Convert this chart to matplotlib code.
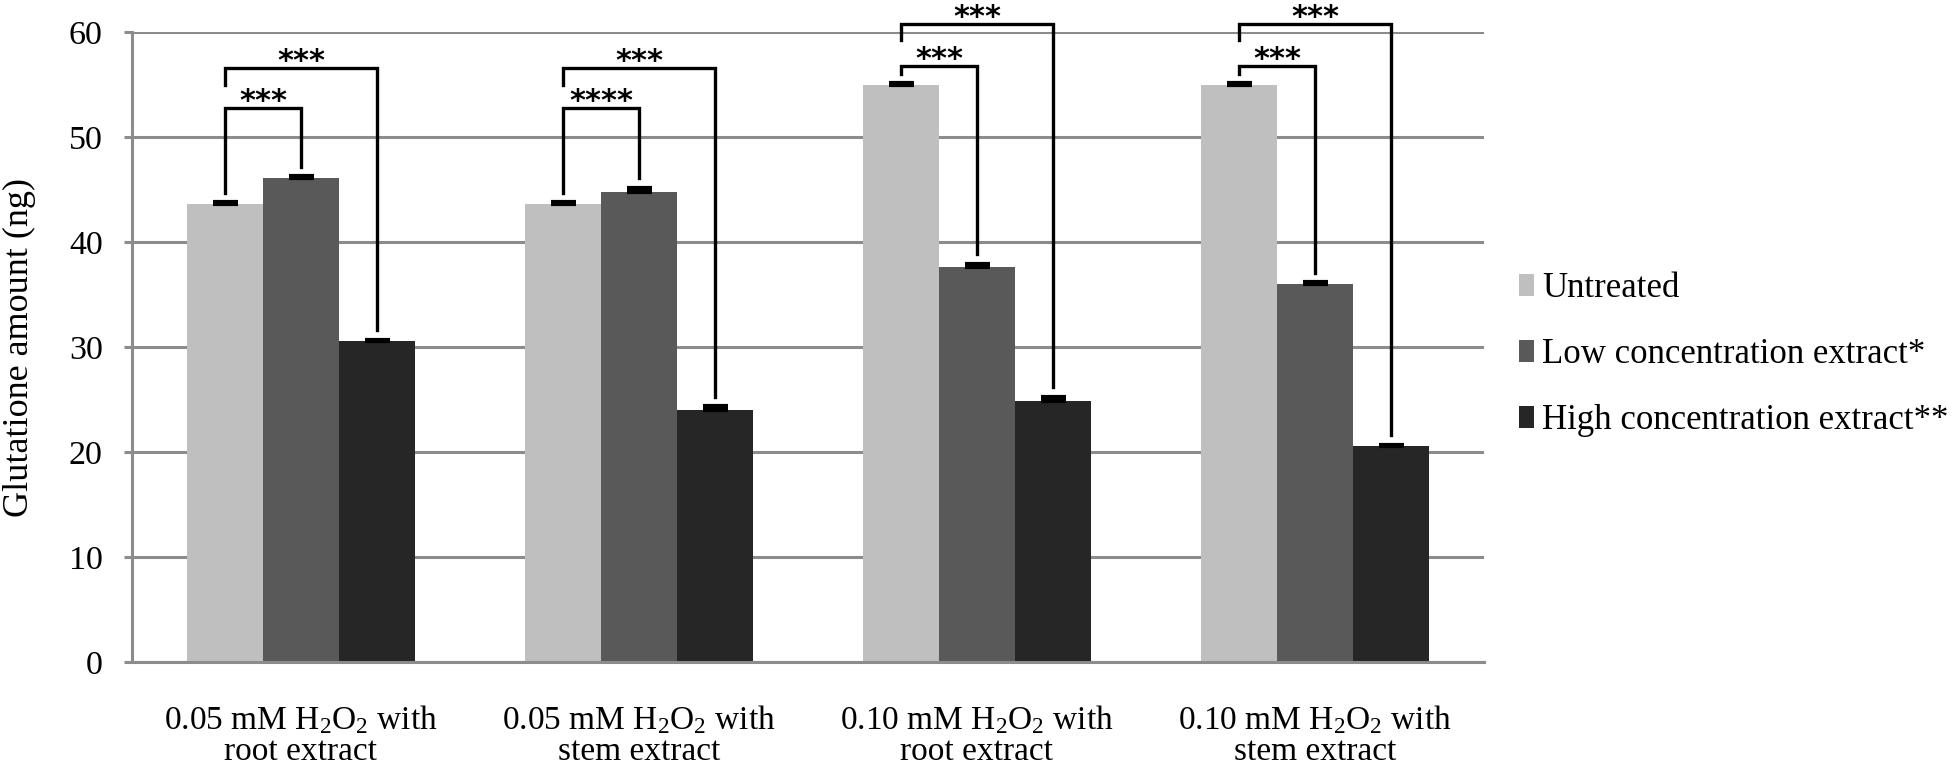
import matplotlib
matplotlib.use('Agg')
import matplotlib.pyplot as plt
import numpy as np

plt.rcParams['font.family'] = ['Liberation Serif', 'DejaVu Serif']
plt.rcParams['mathtext.fontset'] = 'custom'
plt.rcParams['mathtext.rm'] = 'Liberation Serif'
plt.rcParams['mathtext.it'] = 'Liberation Serif:italic'

# data
categories = ['0.05 mM H$_2$O$_2$ with\nroot extract',
              '0.05 mM H$_2$O$_2$ with\nstem extract',
              '0.10 mM H$_2$O$_2$ with\nroot extract',
              '0.10 mM H$_2$O$_2$ with\nstem extract']
series_names = ['Untreated', 'Low concentration extract*', 'High concentration extract**']
untreated = [43.6, 43.6, 55.0, 55.0]
low_conc = [46.1, 44.8, 37.6, 36.0]
high_conc = [30.6, 24.0, 24.9, 20.6]
untreated_err = [0.2, 0.2, 0.1, 0.1]
low_err = [0.15, 0.35, 0.35, 0.15]
high_err = [0.1, 0.35, 0.35, 0.1]

# significance labels (inner = untreated vs low, outer = untreated vs high)
inner_stars = ['***', '****', '***', '***']
outer_stars = ['***', '***', '***', '***']
inner_level = [52.8, 52.8, 56.8, 56.8]
outer_level = [56.6, 56.6, 60.8, 60.8]

colors = ['#bfbfbf', '#595959', '#262626']
grid_col = '#8c8c8c'

fig = plt.figure(figsize=(19.52, 7.64), dpi=100)
ax = fig.add_axes([0.0676, 0.1335, 0.6926, 0.8246])

x = np.arange(len(categories))
w = 0.225
series = [untreated, low_conc, high_conc]
errs = [untreated_err, low_err, high_err]
for i, (vals, err) in enumerate(zip(series, errs)):
    xs = x + (i - 1) * w
    ax.bar(xs, vals, width=w, color=colors[i], label=series_names[i], zorder=2)
    ax.errorbar(xs, vals, yerr=[np.zeros(len(err)), err], fmt='none', ecolor='black',
                elinewidth=2, capsize=9, capthick=3, zorder=3)

# brackets
lw = 2.4
for g in range(len(categories)):
    xu, xl, xh = x[g] - w, x[g], x[g] + w
    top_u = untreated[g] + untreated_err[g]
    top_l = low_conc[g] + low_err[g]
    top_h = high_conc[g] + high_err[g]
    yi, yo = inner_level[g], outer_level[g]
    ax.plot([xu, xu, xl, xl], [top_u + 0.9, yi, yi, top_l + 0.9], color='black', lw=lw,
            solid_joinstyle='miter', clip_on=False, zorder=4)
    ax.plot([xu, xu, xh, xh], [yo - 1.6, yo, yo, top_h + 0.9], color='black', lw=lw,
            solid_joinstyle='miter', clip_on=False, zorder=4)
    ax.text((xu + xl) / 2, yi - 0.25, inner_stars[g], ha='center', va='baseline',
            fontsize=22, fontweight='bold', family='DejaVu Sans', clip_on=False)
    ax.text((xu + xh) / 2, yo - 0.25, outer_stars[g], ha='center', va='baseline',
            fontsize=22, fontweight='bold', family='DejaVu Sans', clip_on=False)

ax.set_ylim(0, 60)
ax.set_xlim(-0.5, len(categories) - 0.5)
ax.set_yticks(np.arange(0, 61, 10))
ax.yaxis.grid(True, color=grid_col, lw=2.2, zorder=0)
ax.set_axisbelow(True)
for s in ['top', 'right']:
    ax.spines[s].set_visible(False)
for s in ['left', 'bottom']:
    ax.spines[s].set_color(grid_col)
    ax.spines[s].set_linewidth(2.2)
ax.tick_params(axis='y', length=6, width=2.2, color=grid_col, pad=15, labelsize=24.5)
ax.tick_params(axis='x', length=0, pad=30, labelsize=24)
ax.set_xticks(x)
ax.set_xticklabels(categories, linespacing=1.0)
ax.set_ylabel('Glutatione amount (ng)', fontsize=26)
ax.yaxis.set_label_coords(-0.071, 0.5)

ax.legend(loc='center left', bbox_to_anchor=(1.026, 0.488), frameon=False, fontsize=25,
          handlelength=0.42, handleheight=0.6, handletextpad=0.25, labelspacing=0.95,
          borderpad=0, borderaxespad=0)

fig.savefig('out.png', dpi=100)
